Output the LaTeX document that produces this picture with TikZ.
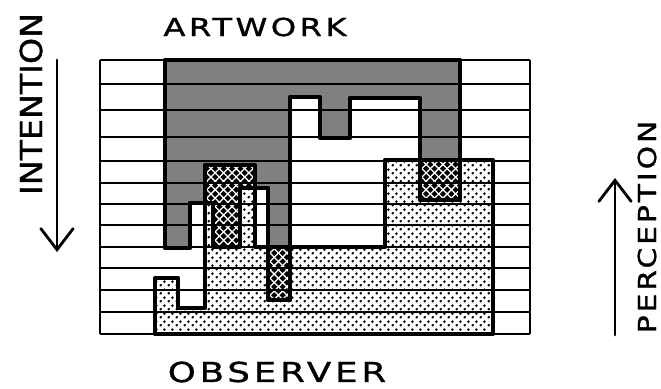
\documentclass[tikz,border=0pt]{standalone}
\usepackage{fontspec}
\setmainfont{DejaVu Sans}
\usetikzlibrary{arrows.meta,patterns.meta}

\newcommand\handfont[3]{\fontsize{#1}{#1}\selectfont
  \addfontfeature{LetterSpace=#2, FakeStretch=#3, FakeBold=1.2}}

\tikzdeclarepattern{
  name=obsdots,
  type=uncolored,
  bounding box={(0pt,0pt) and (5.4pt,5.4pt)},
  tile size={(5.4pt,5.4pt)},
  code={
    \fill (1.35pt,1.35pt) circle (1.05pt);
    \fill (4.05pt,4.05pt) circle (1.05pt);
  }
}
\tikzdeclarepattern{
  name=hatchx,
  type=uncolored,
  bounding box={(-0.5pt,-0.5pt) and (6.5pt,6.5pt)},
  tile size={(6pt,6pt)},
  code={
    \draw[line width=0.9pt] (0pt,0pt) -- (6pt,6pt) (0pt,6pt) -- (6pt,0pt);
  }
}

\tikzset{
  rowline/.style={line width=1.4pt},
  edgeline/.style={line width=3pt, line join=round},
  arrowline/.style={line width=2pt, line cap=round,
    -{Straight Barb[length=15pt,width=23pt,line cap=round]}},
  handtext/.style={inner sep=0pt, text=black}
}

\begin{document}
\begin{tikzpicture}[x=0.025cm, y=-0.025cm]
\useasboundingbox (0,0) rectangle (661,388);

% observer, from below
\def\observer{(155,334) -- (155,278) -- (178,278) -- (178,308) -- (205,308)
  -- (205,165) -- (255,165) -- (255,247) -- (385,247) -- (385,160)
  -- (493,160) -- (493,334) -- cycle}
% artwork, from above
\def\artwork{(165,60) -- (460,60) -- (460,200) -- (420,200) -- (420,98)
  -- (350,98) -- (350,138) -- (320,138) -- (320,97) -- (290,97)
  -- (290,300) -- (268,300) -- (268,188) -- (240,188) -- (240,247)
  -- (213,247) -- (213,203) -- (190,203) -- (190,248) -- (165,248) -- cycle}

\fill[pattern=obsdots, pattern color=black] \observer;
\fill[black!50] \artwork;
\begin{scope}
  \clip \observer;
  \fill[black] \artwork;
  \fill[pattern=hatchx, pattern color=white] \artwork;
\end{scope}

\foreach \y in {60,84,110,137,161,183,204,225,247,268,290,312,334}
  \draw[rowline] (100,\y) -- (530,\y);
\draw[rowline] (100,60) -- (100,334);
\draw[rowline] (530,60) -- (530,334);

\draw[edgeline] \artwork;
\draw[edgeline] \observer;

\node[handtext, font=\handfont{17.6}{14}{1.3}] (artwork) at (255,27) {ARTWORK};
\node[handtext, font=\handfont{19.5}{14}{1.3}] (observer) at (277,372) {OBSERVER};
\node[handtext, rotate=90, font=\handfont{21.5}{0}{1.1}] (intention) at (31,104) {INTENTION};
\node[handtext, rotate=90, font=\handfont{17.6}{12}{1.2}] (perception) at (647,227) {PERCEPTION};

\coordinate (intTop) at (57,60);
\coordinate (intEnd) at (57,252);
\coordinate (perStart) at (615,335);
\coordinate (perEnd) at (615,178);
\draw[arrowline] (intTop) -- (intEnd);
\draw[arrowline] (perStart) -- (perEnd);
\end{tikzpicture}
\end{document}
